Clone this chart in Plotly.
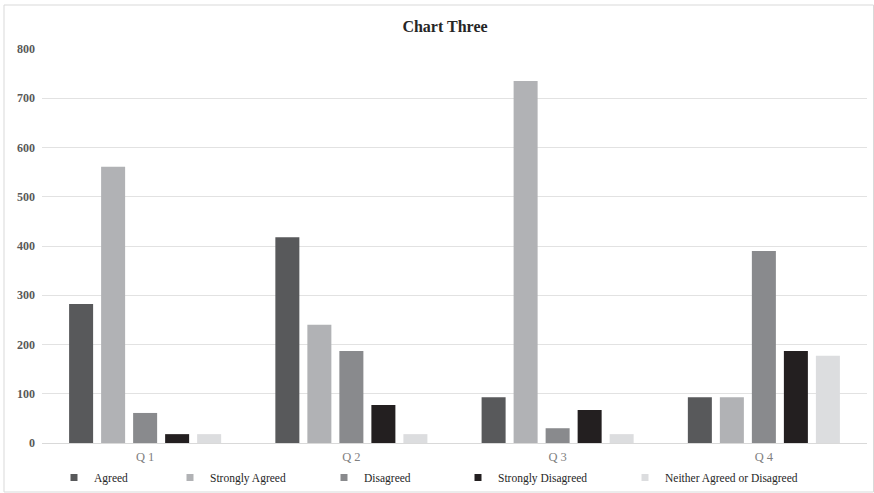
import plotly.graph_objects as go

categories = ["Q 1", "Q 2", "Q 3", "Q 4"]
series_names = ["Agreed", "Strongly Agreed", "Disagreed", "Strongly Disagreed", "Neither Agreed or Disagreed"]
agreed = [282, 418, 93, 93]
strongly_agreed = [561, 240, 735, 93]
disagreed = [61, 187, 30, 390]
strongly_disagreed = [18, 77, 67, 187]
neither = [18, 18, 18, 177]
y_ticks = [0, 100, 200, 300, 400, 500, 600, 700, 800]

series_values = [agreed, strongly_agreed, disagreed, strongly_disagreed, neither]
colors = ["#58595b", "#b1b2b5", "#898a8d", "#231f20", "#dcdddf"]

W, H = 874, 493
L, R, T, B = 42, 874 - 867, 49, 493 - 443
PW, PH = W - L - R, H - T - B

def px_x(p):
    return (p - L) / PW

def px_y(p):
    return (H - B - p) / PH

FONT = "Liberation Serif, Times New Roman, serif"

fig = go.Figure()
legend_text_starts = [94, 210, 364, 498, 665]
for i, (name, vals, col) in enumerate(zip(series_names, series_values, colors)):
    fig.add_trace(go.Bar(x=categories, y=vals, name=name, marker=dict(color=col, line=dict(width=0)),
                         legendgroup=name, showlegend=False))
    lg = "legend" if i == 0 else f"legend{i+1}"
    fig.add_trace(go.Scatter(x=[None], y=[None], mode="markers", name=name, legendgroup=name,
                             marker=dict(symbol="square", size=7, color=col), legend=lg, showlegend=True))

legend_common = dict(orientation="h", xanchor="left", yanchor="middle", bgcolor="rgba(0,0,0,0)",
                     font=dict(family=FONT, size=11.5, color="#262626"), itemwidth=30)
layout_legends = {}
for i, ts in enumerate(legend_text_starts):
    key = "legend" if i == 0 else f"legend{i+1}"
    layout_legends[key] = dict(legend_common, x=px_x(ts - 40), y=px_y(477.5))

fig.update_layout(
    width=W, height=H,
    margin=dict(l=L, r=R, t=T, b=B, pad=0, autoexpand=False),
    paper_bgcolor="white", plot_bgcolor="white",
    barmode="group", bargap=0.224, bargroupgap=0.25,
    title=dict(text="<b>Chart Three</b>", x=445 / W, xref="container", xanchor="center",
               y=1 - 26 / H, yref="container", yanchor="middle",
               font=dict(family=FONT, size=16, color="#262626")),
    xaxis=dict(type="category", showgrid=False, showline=False, ticks="",
               ticklabelstandoff=4,
               tickfont=dict(family=FONT, size=12.5, color="#7f7f7f"), zeroline=False),
    yaxis=dict(range=[0, 800], tickvals=y_ticks, showgrid=True, gridcolor="#e2e2e2", gridwidth=1,
               zeroline=True, zerolinecolor="#d9d9d9", zerolinewidth=1, showline=False, ticks="",
               ticklabelstandoff=6,
               tickfont=dict(family=FONT, size=12, color="#595959", weight="bold")),
    font=dict(family=FONT),
    **layout_legends,
    shapes=[dict(type="rect", xref="paper", yref="paper", x0=px_x(4), x1=px_x(873.5), y0=px_y(492), y1=px_y(5),
                 line=dict(color="#d9d9d9", width=1), fillcolor="rgba(0,0,0,0)", layer="below")],
)

fig.write_html("out.html", config={"displayModeBar": False},
               post_script="document.body.style.margin='0';document.body.style.overflow='hidden';")
